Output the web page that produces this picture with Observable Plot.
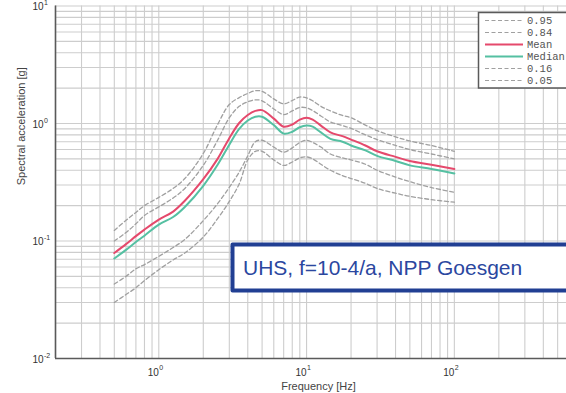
<!DOCTYPE html>
<html>
<head>
<meta charset="utf-8">
<script src="https://cdn.jsdelivr.net/npm/d3@7"></script>
<script src="https://cdn.jsdelivr.net/npm/@observablehq/plot@0.6"></script>
<style>
  html, body { margin: 0; padding: 0; background: #fff; overflow: hidden; }
  #chart { position: relative; width: 566px; height: 393px; overflow: hidden; }
  #chart svg { display: block; max-width: none !important; }
</style>
</head>
<body>
<div id="chart"></div>
<script>
// ---- data ----
const freq   = [0.5, 0.6, 0.7, 0.8, 1.0, 1.25, 1.5, 2, 2.5, 3, 3.5, 4, 4.5, 5, 6, 7, 8, 9, 10, 11, 12.5, 14.5, 17.5, 20, 25, 30, 40, 50, 70, 100];
const p95    = [0.123, 0.150, 0.175, 0.200, 0.235, 0.28, 0.34, 0.556, 0.98, 1.45, 1.66, 1.80, 1.90, 1.88, 1.62, 1.47, 1.57, 1.68, 1.65, 1.56, 1.40, 1.28, 1.17, 1.12, 0.97, 0.87, 0.77, 0.71, 0.65, 0.58];
const p84    = [0.100, 0.118, 0.140, 0.165, 0.195, 0.232, 0.28, 0.44, 0.72, 1.12, 1.40, 1.53, 1.59, 1.56, 1.33, 1.19, 1.28, 1.37, 1.36, 1.29, 1.16, 1.03, 0.96, 0.91, 0.80, 0.73, 0.65, 0.60, 0.55, 0.50];
const mean   = [0.079, 0.094, 0.110, 0.125, 0.152, 0.178, 0.22, 0.336, 0.50, 0.75, 1.01, 1.18, 1.28, 1.30, 1.10, 0.94, 0.98, 1.08, 1.12, 1.08, 0.96, 0.84, 0.78, 0.73, 0.65, 0.58, 0.52, 0.48, 0.445, 0.41];
const median = [0.071, 0.084, 0.098, 0.111, 0.138, 0.160, 0.195, 0.295, 0.445, 0.66, 0.90, 1.06, 1.14, 1.14, 0.97, 0.82, 0.85, 0.93, 0.96, 0.94, 0.84, 0.74, 0.70, 0.65, 0.59, 0.53, 0.48, 0.44, 0.41, 0.375];
const p16    = [0.043, 0.050, 0.058, 0.063, 0.074, 0.088, 0.103, 0.149, 0.208, 0.286, 0.386, 0.53, 0.70, 0.72, 0.63, 0.57, 0.62, 0.69, 0.72, 0.69, 0.63, 0.55, 0.51, 0.49, 0.45, 0.40, 0.35, 0.32, 0.285, 0.26];
const p05    = [0.030, 0.035, 0.040, 0.046, 0.057, 0.069, 0.079, 0.108, 0.155, 0.217, 0.306, 0.49, 0.58, 0.58, 0.49, 0.44, 0.47, 0.51, 0.52, 0.50, 0.45, 0.40, 0.36, 0.34, 0.31, 0.28, 0.255, 0.24, 0.225, 0.214];

const seriesNames = ["0.95", "0.84", "Mean", "Median", "0.16", "0.05"];
const seriesValues = [p95, p84, mean, median, p16, p05];
const seriesColors = ["#a0a0a0", "#a0a0a0", "#e5496c", "#55c0a2", "#a0a0a0", "#a0a0a0"];
const seriesDashed = [true, true, false, false, true, true];

const xTicks = [1, 10, 100];
const yTicks = [0.01, 0.1, 1, 10];
const xGrid = [];
for (const d of [0.1, 1, 10, 100]) for (let k = 1; k <= 9; k++) { const v = +(d * k).toPrecision(3); if (v >= 0.2 && v <= 574) xGrid.push(v); }
const yGrid = [];
for (const d of [0.01, 0.1, 1]) for (let k = 1; k <= 9; k++) yGrid.push(+(d * k).toPrecision(3));
yGrid.push(10);

const xLabel = "Frequency [Hz]";
const yLabel = "Spectral acceleration [g]";
const annotation = "UHS, f=10-4/a, NPP Goesgen";

// ---- table ----
const rows = [];
seriesNames.forEach((name, i) => {
  freq.forEach((f, j) => rows.push({series: name, f, v: seriesValues[i][j], idx: i}));
});

const lineMarks = seriesNames.map((name, i) =>
  Plot.line(rows.filter(r => r.series === name), {
    x: "f", y: "v",
    stroke: seriesColors[i],
    strokeWidth: seriesDashed[i] ? 1.3 : 2,
    strokeDasharray: seriesDashed[i] ? "4,2.6" : null,
    curve: "catmull-rom"
  })
);

const exp = d => String(Math.round(Math.log10(d)));

const chart = Plot.plot({
  width: 566,
  height: 393,
  marginLeft: 55,
  marginRight: 0,
  marginTop: 5.5,
  marginBottom: 35,
  style: {fontFamily: "'Liberation Sans', Arial, sans-serif", background: "#fff", color: "#333"},
  x: {type: "log", domain: [0.2, 574], axis: null},
  y: {type: "log", domain: [0.01, 10], axis: null},
  marks: [
    Plot.ruleX(xGrid, {stroke: "#cdcdcd", strokeWidth: 1.1}),
    Plot.ruleY(yGrid, {stroke: "#cdcdcd", strokeWidth: 1.1}),
    ...lineMarks,
    Plot.ruleX([0.2], {stroke: "#5a5a5a", strokeWidth: 1.6}),
    Plot.ruleY([0.01], {stroke: "#5a5a5a", strokeWidth: 1.6}),
    // x tick labels
    Plot.text(xTicks, {x: d => d, frameAnchor: "bottom", text: d => "10", textAnchor: "end", lineAnchor: "middle", dy: 14.5, fontSize: 10, fill: "#333"}),
    Plot.text(xTicks, {x: d => d, frameAnchor: "bottom", text: exp, textAnchor: "start", lineAnchor: "middle", dy: 9.5, dx: 0.5, fontSize: 7, fill: "#333"}),
    // y tick labels
    Plot.text(yTicks, {y: d => d, frameAnchor: "left", text: d => "10", textAnchor: "end", lineAnchor: "middle", dx: -12, dy: 1, fontSize: 10, fill: "#333"}),
    Plot.text(yTicks, {y: d => d, frameAnchor: "left", text: exp, textAnchor: "start", lineAnchor: "middle", dx: -11.5, dy: -3, fontSize: 7, fill: "#333"}),
    // axis titles
    Plot.text([xLabel], {frameAnchor: "bottom", text: d => d, lineAnchor: "middle", dy: 27.5, dx: 7.5, fontSize: 11, fill: "#444"}),
    Plot.text([yLabel], {frameAnchor: "left", text: d => d, rotate: -90, lineAnchor: "middle", dx: -34, dy: 3, fontSize: 11, fill: "#444"})
  ]
});

// ---- legend and annotation box (decoration, open to the right as in the cropped original) ----
const svg = d3.select(chart);
const leg = svg.append("g");
leg.append("rect").attr("x", 478.5).attr("y", 12.5).attr("width", 110).attr("height", 75.5)
  .attr("fill", "#fff").attr("stroke", "none");
leg.append("path").attr("d", "M600,12.5H478.5V88H600")
  .attr("fill", "none").attr("stroke", "#5a5a5a").attr("stroke-width", 1.5);
seriesNames.forEach((name, i) => {
  const y = 20.5 + i * 12;
  leg.append("line").attr("x1", 485).attr("x2", 523).attr("y1", y).attr("y2", y)
    .attr("stroke", seriesColors[i]).attr("stroke-width", seriesDashed[i] ? 1.2 : 2)
    .attr("stroke-dasharray", seriesDashed[i] ? "4,2.5" : null);
  leg.append("text").attr("x", 527).attr("y", y).attr("dy", "0.35em")
    .attr("text-anchor", "start")
    .attr("font-family", "'Liberation Mono', 'DejaVu Sans Mono', monospace")
    .attr("font-size", 10.5).attr("fill", "#555").text(name);
});

const ann = svg.append("g");
ann.append("rect").attr("x", 232.5).attr("y", 244.5).attr("width", 400).attr("height", 46)
  .attr("fill", "#fff").attr("stroke", "none");
ann.append("path").attr("d", "M640,244.5H232.5V290.5H640")
  .attr("fill", "none").attr("stroke", "#213f93").attr("stroke-width", 4).attr("stroke-linejoin", "round");
ann.append("text").attr("x", 243).attr("y", 274.5).attr("text-anchor", "start")
  .attr("font-family", "'Liberation Sans', Arial, sans-serif").attr("font-size", 21)
  .attr("fill", "#2b479f").text(annotation);

document.getElementById("chart").appendChild(chart);
</script>
</body>
</html>
